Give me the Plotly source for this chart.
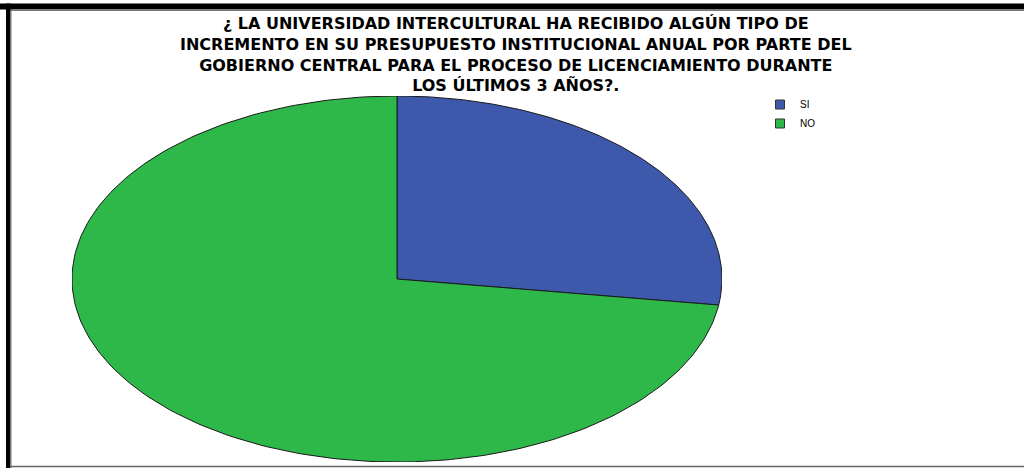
import numpy as np
import plotly.graph_objects as go

# respuestas
categorias = ["SI", "NO"]
frecuencias = [3, 8]
colores = ["#3E58AC", "#2EB84A"]

titulo = [
    "¿ LA UNIVERSIDAD INTERCULTURAL HA RECIBIDO ALGÚN TIPO DE",
    "INCREMENTO EN SU PRESUPUESTO INSTITUCIONAL ANUAL POR PARTE DEL",
    "GOBIERNO CENTRAL PARA EL PROCESO DE LICENCIAMIENTO DURANTE",
    "LOS ÚLTIMOS 3 AÑOS?.",
]

W, H = 1024, 468
L, R, T, B = 72, 302, 96, 6
pw, ph = W - L - R, H - T - B


def px_x(x):
    return (x - L) / pw


def px_y(y):
    return (H - B - y) / ph


fig = go.Figure()

# pie drawn on stretched axes (the original chart is elliptical)
total = sum(frecuencias)
inicio = np.pi / 2
for cat, val, col in zip(categorias, frecuencias, colores):
    fin = inicio - 2 * np.pi * val / total
    ang = np.linspace(inicio, fin, 200)
    xs = np.concatenate([[0], np.cos(ang), [0]])
    ys = np.concatenate([[0], np.sin(ang), [0]])
    fig.add_trace(go.Scatter(
        x=xs, y=ys, mode="lines", fill="toself", fillcolor=col,
        line=dict(color="#1a1a1a", width=1), name=cat,
        hoverinfo="name", showlegend=False,
    ))
    # legend swatch
    fig.add_trace(go.Scatter(
        x=[None], y=[None], mode="markers", name=cat,
        marker=dict(symbol="square", size=9, color=col,
                    line=dict(color="#333333", width=1)),
    ))
    inicio = fin

fig.add_annotation(
    text="<br>".join(titulo), x=px_x(516), y=px_y(55), xref="paper", yref="paper",
    xanchor="center", yanchor="middle", showarrow=False, align="center",
    font=dict(family="DejaVu Sans", size=16, color="black", weight="bold"),
)

# frame
fig.add_shape(type="rect", xref="paper", yref="paper",
              x0=px_x(0), x1=px_x(W), y0=px_y(3.5), y1=px_y(9.5),
              fillcolor="black", line_width=0, layer="above")
fig.add_shape(type="line", xref="paper", yref="paper",
              x0=px_x(10), x1=px_x(W), y0=px_y(10.5), y1=px_y(10.5),
              line=dict(color="#777777", width=1))
fig.add_shape(type="rect", xref="paper", yref="paper",
              x0=px_x(6), x1=px_x(10.5), y0=px_y(3.5), y1=px_y(H),
              fillcolor="black", line_width=0, layer="above")
fig.add_shape(type="line", xref="paper", yref="paper",
              x0=px_x(11), x1=px_x(11), y0=px_y(10), y1=px_y(H),
              line=dict(color="#777777", width=1))
fig.add_shape(type="line", xref="paper", yref="paper",
              x0=px_x(10), x1=px_x(W), y0=px_y(466.5), y1=px_y(466.5),
              line=dict(color="#666666", width=1.5))

fig.update_xaxes(range=[-1, 1], visible=False, fixedrange=True)
fig.update_yaxes(range=[-1, 1], visible=False, fixedrange=True)

fig.update_layout(
    width=W, height=H,
    margin=dict(l=L, r=R, t=T, b=B),
    paper_bgcolor="white", plot_bgcolor="white",
    showlegend=True,
    legend=dict(
        x=px_x(760), y=px_y(90), xanchor="left", yanchor="top",
        font=dict(family="Liberation Sans", size=10, color="black"),
        itemwidth=30, tracegroupgap=0, bgcolor="rgba(0,0,0,0)",
    ),
)

fig.write_html("out.html", config={"displayModeBar": False},
               post_script="document.body.style.margin='0px';")
